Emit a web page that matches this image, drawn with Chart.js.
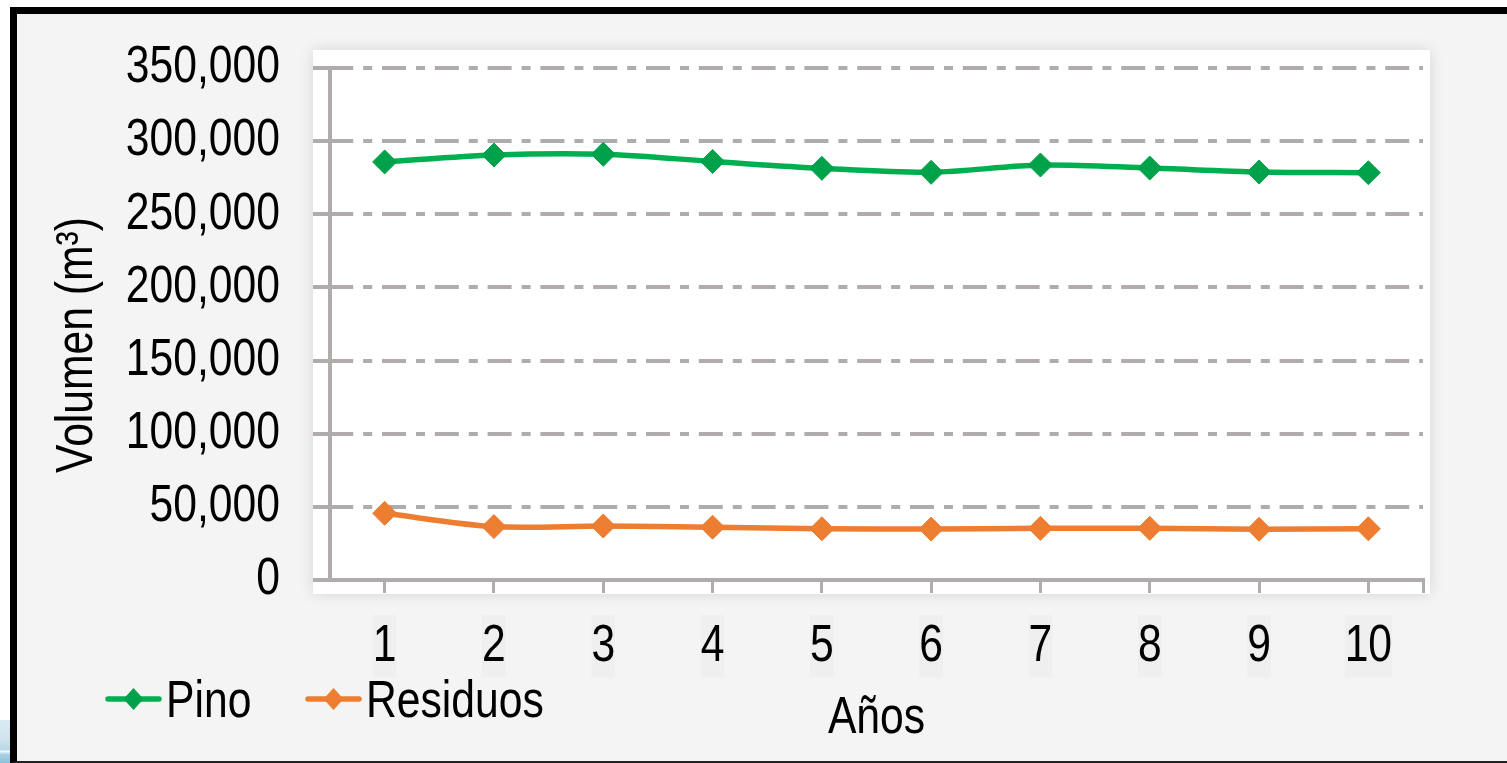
<!DOCTYPE html>
<html>
<head>
<meta charset="utf-8">
<script src="https://cdn.jsdelivr.net/npm/chart.js@4.4.1/dist/chart.umd.min.js"></script>
<style>
  html, body { margin: 0; padding: 0; width: 1507px; height: 763px; overflow: hidden; background: #ffffff; }
  #frame {
    position: absolute; left: 10px; top: 7px; width: 1510px; height: 756px;
    box-sizing: border-box; background: #f4f4f4;
    border-left: 7px solid #000; border-top: 7px solid #000; border-bottom: 2px solid #222;
  }
  #corner {
    position: absolute; left: 0; top: 720px; width: 10px; height: 43px;
    background: linear-gradient(#dbeaf2 0%, #cfe4ee 45%, #b7d6e6 70%, #ffffff 72%, #a9cfe2 80%, #8fc0d8 100%);
  }
  #wrap { position: absolute; left: 0; top: 0; width: 1507px; height: 763px; }
</style>
</head>
<body>
<div id="frame"></div>
<div id="corner"></div>
<div id="wrap"><canvas id="chart" width="1507" height="763"></canvas></div>
<script>
// Years on the horizontal axis
const years = [1, 2, 3, 4, 5, 6, 7, 8, 9, 10];
// Volume series (m³)
const pino = [285800, 290500, 291000, 286100, 281400, 278700, 283700, 281600, 278900, 278400];
const residuos = [45600, 36500, 36900, 36100, 35000, 34800, 35300, 35300, 34700, 35000];
// Axis ticks and texts
const yTicks = [0, 50000, 100000, 150000, 200000, 250000, 300000, 350000];
const seriesNames = ['Pino', 'Residuos'];
const xTitle = 'Años';
const yTitle = 'Volumen (m³)';

const FONT = "'Liberation Sans', Arial, sans-serif";
const GRID = '#afacab';
const NARROW = 0.82; // horizontal squeeze giving a narrow sans face

// Narrow text: every string drawn on this canvas is squeezed horizontally
// around its anchor point, and measured with the same factor.
const canvas = document.getElementById('chart');
const c2d = canvas.getContext('2d');
const baseFill = c2d.fillText.bind(c2d);
const baseMeasure = c2d.measureText.bind(c2d);
c2d.fillText = function (text, x, y, maxWidth) {
  this.save();
  this.translate(x, y);
  this.scale(NARROW, 1);
  if (maxWidth === undefined || maxWidth === null) baseFill(text, 0, 0);
  else baseFill(text, 0, 0, maxWidth / NARROW);
  this.restore();
};
c2d.measureText = function (text) {
  const m = baseMeasure(text);
  return {
    width: m.width * NARROW,
    actualBoundingBoxAscent: m.actualBoundingBoxAscent,
    actualBoundingBoxDescent: m.actualBoundingBoxDescent,
    actualBoundingBoxLeft: m.actualBoundingBoxLeft * NARROW,
    actualBoundingBoxRight: m.actualBoundingBoxRight * NARROW,
    fontBoundingBoxAscent: m.fontBoundingBoxAscent,
    fontBoundingBoxDescent: m.fontBoundingBoxDescent
  };
};

Chart.defaults.font.family = FONT;
Chart.defaults.font.size = 52;
Chart.defaults.color = '#000';

// White plot panel with a soft shadow behind the axes
const plotPanel = {
  id: 'plotPanel',
  beforeDraw(chart) {
    const { ctx, chartArea: a } = chart;
    ctx.save();
    ctx.shadowColor = 'rgba(0,0,0,0.13)';
    ctx.shadowBlur = 14;
    ctx.fillStyle = '#ffffff';
    ctx.fillRect(a.left - 17, a.top - 18, a.right - a.left + 24, a.bottom - a.top + 32);
    ctx.restore();
  }
};

// Vertical axis title and the line/marker legend at the bottom left
const sideTexts = {
  id: 'sideTexts',
  afterDraw(chart) {
    const ctx = chart.ctx;
    ctx.save();
    ctx.font = `52px ${FONT}`;
    ctx.fillStyle = '#000';
    ctx.translate(92, 345);
    ctx.rotate(-Math.PI / 2);
    ctx.textAlign = 'center';
    ctx.textBaseline = 'alphabetic';
    ctx.fillText(yTitle, 0, 0);
    ctx.restore();

    const starts = [106, 306];
    const rowY = 699;
    chart.data.datasets.forEach((ds, i) => {
      const x0 = starts[i];
      const x1 = x0 + 55;
      const cx = (x0 + x1) / 2;
      ctx.save();
      ctx.strokeStyle = ds.borderColor;
      ctx.lineWidth = 5.5;
      ctx.lineCap = 'round';
      ctx.beginPath();
      ctx.moveTo(x0 + 2, rowY);
      ctx.lineTo(x1 - 2, rowY);
      ctx.stroke();
      ctx.fillStyle = ds.pointBackgroundColor;
      ctx.beginPath();
      ctx.moveTo(cx, rowY - 11);
      ctx.lineTo(cx + 10, rowY);
      ctx.lineTo(cx, rowY + 11);
      ctx.lineTo(cx - 10, rowY);
      ctx.closePath();
      ctx.fill();
      ctx.font = `52px ${FONT}`;
      ctx.fillStyle = '#000';
      ctx.textBaseline = 'alphabetic';
      ctx.textAlign = 'left';
      ctx.fillText(ds.label, x1 + 5, 717);
      ctx.restore();
    });
  }
};

new Chart(canvas, {
  type: 'line',
  data: {
    datasets: [
      {
        label: seriesNames[0],
        data: years.map((y, i) => ({ x: y, y: pino[i] })),
        borderColor: '#00b050',
        backgroundColor: '#00a14b',
        pointBackgroundColor: '#00a14b',
        pointBorderColor: '#00a14b',
        borderWidth: 5.5,
        pointStyle: 'rectRot',
        pointRadius: 12,
        pointBorderWidth: 1,
        tension: 0.3
      },
      {
        label: seriesNames[1],
        data: years.map((y, i) => ({ x: y, y: residuos[i] })),
        borderColor: '#ed7d31',
        backgroundColor: '#ed7d31',
        pointBackgroundColor: '#ed7d31',
        pointBorderColor: '#ed7d31',
        borderWidth: 5.5,
        pointStyle: 'rectRot',
        pointRadius: 12,
        pointBorderWidth: 1,
        tension: 0.3
      }
    ]
  },
  options: {
    responsive: false,
    animation: false,
    devicePixelRatio: 1,
    layout: { padding: { top: 68, right: 84, bottom: 0, left: 0 } },
    plugins: { legend: { display: false }, tooltip: { enabled: false } },
    scales: {
      x: {
        type: 'linear',
        min: 0.5,
        max: 10.5,
        afterBuildTicks: s => { s.ticks = years.map(v => ({ value: v })).concat([{ value: 10.5 }]); },
        afterFit: s => { s.height = 183; },
        ticks: {
          callback: v => (years.includes(v) ? String(v) : ''),
          color: '#000',
          padding: 22,
          maxRotation: 0,
          autoSkip: false,
          showLabelBackdrop: true,
          backdropColor: '#efefef',
          backdropPadding: 0
        },
        grid: { drawOnChartArea: false, drawTicks: true, tickLength: 13, color: GRID, lineWidth: 3 },
        border: { display: true, color: GRID, width: 4 },
        title: { display: true, text: xTitle, color: '#000', padding: { top: 0, bottom: 13 } }
      },
      y: {
        min: 0,
        max: 350000,
        afterBuildTicks: s => { s.ticks = yTicks.map(v => ({ value: v })); },
        afterFit: s => { s.width = 330; },
        ticks: { callback: v => v.toLocaleString('en-US'), color: '#000', padding: 33 },
        grid: { color: GRID, lineWidth: 4, tickLength: 17, tickBorderDash: [], tickColor: GRID, tickWidth: 4 },
        border: { display: true, color: GRID, width: 4, dash: [24, 10, 9, 9.8], dashOffset: 2.8 }
      }
    }
  },
  plugins: [plotPanel, sideTexts]
});
</script>
</body>
</html>
